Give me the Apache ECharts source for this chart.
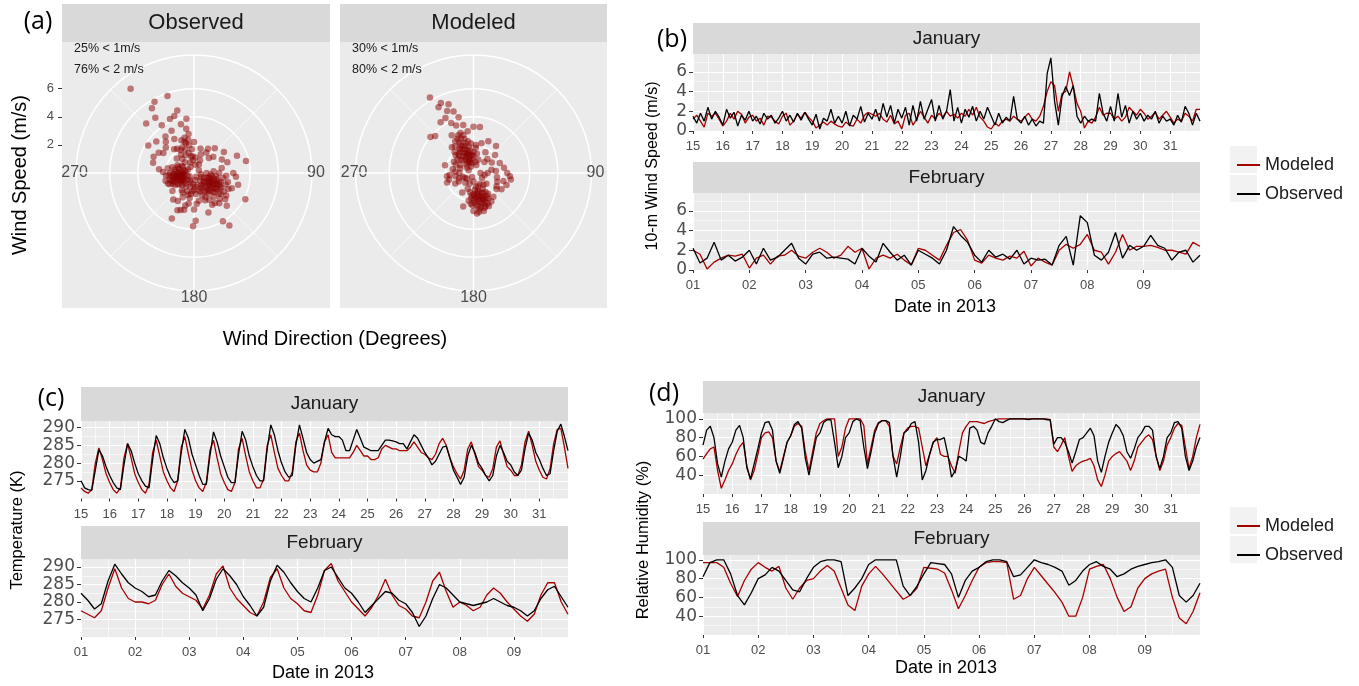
<!DOCTYPE html>
<html>
<head>
<meta charset="utf-8">
<title>Observed vs modeled wind, temperature and humidity</title>
<script src="https://cdn.jsdelivr.net/npm/echarts@6.0.0/dist/echarts.min.js"></script>
<style>
  html, body { margin: 0; padding: 0; background: #fff; }
  #chart { width: 1359px; height: 686px; }
</style>
</head>
<body>
<div id="chart"></div>
<script>
// ---------------- data ----------------
// time series are 3-hourly samples, first one at 00:00 of the first day
const stepsPerDay = 8;
const janStart = 15;
const febStart = 1;
const janTickDays = [15, 16, 17, 18, 19, 20, 21, 22, 23, 24, 25, 26, 27, 28, 29, 30, 31];
const febTickDays = [1, 2, 3, 4, 5, 6, 7, 8, 9];
const seriesNames = ['Modeled', 'Observed'];

// (b) 10-m wind speed, m/s
const janWindObs = [
  1.5, 0.8, 1.8, 1.0, 2.4, 1.2, 2.0, 1.4,
  0.6, 2.2, 1.3, 1.9, 0.5, 1.6, 1.1, 2.0,
  1.0, 1.5, 0.7, 1.8, 1.2, 1.6, 0.8, 1.3,
  2.0, 1.0, 1.6, 0.9, 1.8, 1.1, 1.9, 1.2,
  0.6, 1.7, 0.2, 1.3, 1.0, 2.2, 0.8, 1.5,
  0.8, 2.0, 0.5, 1.6, 1.2, 2.5, 0.9, 1.8,
  1.2, 2.2, 1.0, 2.8, 1.4, 2.6, 0.8, 2.2,
  1.3, 2.4, 0.6, 2.6, 1.0, 3.0, 1.2, 2.2,
  3.2, 1.0, 2.6, 1.2, 2.0, 4.2, 1.0, 2.4,
  0.8, 2.2, 1.4, 2.5, 1.0, 2.0, 1.2, 2.4,
  1.5, 0.6, 1.8, 0.8, 1.4, 1.0, 3.5, 1.2,
  0.8, 1.5, 0.6, 1.2, 0.5, 1.0, 0.8, 5.8,
  7.4, 3.0, 0.6, 3.5, 4.5, 3.6, 4.6, 1.5,
  0.8, 1.5, 1.0, 1.2, 1.0, 3.8, 1.8, 1.0,
  2.5, 1.0, 3.8, 1.4, 2.6, 0.8, 2.0, 1.2,
  1.8, 1.0, 1.6, 1.2, 2.0, 0.8, 1.5, 1.0,
  1.2, 0.6, 1.6, 0.9, 2.5, 1.8, 0.6, 1.8,
  1.0
];
const janWindMod = [
  1.2, 1.6, 1.0, 0.4, 1.8, 1.5, 1.8, 1.2,
  0.5, 1.0, 1.8, 1.2, 2.0, 1.7, 0.8, 1.4,
  1.6, 1.0, 1.3, 0.6, 1.5, 1.4, 1.0, 0.7,
  1.5, 1.8, 0.6, 1.0, 1.7, 1.3, 1.9, 1.4,
  1.0, 0.3, 0.6, 0.9, 0.6, 1.0, 0.7, 0.5,
  0.4, 0.9, 0.6, 0.5, 1.2, 0.8, 1.6, 1.9,
  1.7, 1.5, 1.8, 1.2, 0.9, 1.6, 0.7, 1.0,
  0.2, 1.6, 1.8, 0.6, 1.2, 2.0, 1.4, 0.8,
  1.6, 1.2, 1.8, 1.4, 2.0, 1.5, 1.7, 1.3,
  1.8, 1.5, 2.2, 1.6, 2.4, 1.4, 1.0, 0.4,
  0.2, 0.8, 0.5, 1.0, 1.2, 1.0, 1.5, 1.2,
  1.0, 1.4, 1.8, 1.2, 1.0, 1.5, 2.5, 4.0,
  5.0, 4.6, 2.0, 3.8, 4.0, 6.0, 4.5, 2.8,
  2.0, 0.3, 1.0, 0.8, 1.4, 2.4, 1.6, 1.8,
  1.8, 1.2, 1.5, 1.0, 1.4, 2.4, 2.0, 1.6,
  2.2, 1.8, 1.2, 1.5, 1.9, 1.2, 1.6, 2.0,
  1.4, 0.8, 1.2, 1.0, 1.8, 1.5, 1.0, 2.2,
  2.2
];
const febWindObs = [
  2.2, 0.7, 1.2, 2.8, 1.0, 1.5, 0.9, 1.3,
  2.0, 0.6, 2.2, 1.0, 1.3, 2.0, 2.7, 1.2,
  0.6, 1.6, 1.8, 1.2, 1.3, 1.2, 1.1, 0.6,
  2.2, 1.4, 0.8, 2.7, 1.8, 1.0, 1.5, 0.5,
  2.0, 1.6, 1.2, 0.6, 2.0, 4.4, 3.5, 2.8,
  1.5, 0.8, 2.0, 1.3, 1.6, 1.1, 2.0, 0.6,
  1.2, 1.0, 1.1, 0.5, 2.5, 3.4, 0.5, 5.5,
  4.8, 1.5, 1.0, 1.8, 3.8, 1.2, 2.5, 2.0,
  2.4, 3.5, 2.5, 2.2, 1.0, 1.8, 2.0, 0.8,
  1.5
];
const febWindMod = [
  2.0, 1.6, 0.1, 0.8, 1.2, 1.5, 1.4, 1.6,
  0.2, 1.2, 1.5, 0.6, 1.4, 1.5, 2.0, 1.4,
  1.2, 1.8, 2.2, 1.8, 1.2, 1.5, 2.4, 1.8,
  2.2, 0.1, 1.2, 1.5, 1.2, 1.6, 1.0, 0.5,
  2.2, 2.0, 1.5, 1.0, 2.5, 3.8, 4.1, 3.0,
  1.0, 0.7, 1.5, 1.2, 1.0, 1.4, 1.2, 1.9,
  0.4, 1.2, 0.8, 0.5, 2.0, 2.6, 2.2, 2.6,
  3.6, 2.0, 1.8, 0.6, 1.8, 3.6, 2.0, 2.4,
  2.4, 2.5, 2.3, 2.0, 2.0, 1.8, 1.6, 2.8,
  2.4
];

// (c) temperature, K
const janTempObs = [
  275.0, 273.0, 272.5, 272.3, 278.0, 283.8, 282.0, 279.0,
  276.5, 274.5, 273.0, 272.5, 279.5, 285.5, 283.5, 280.0,
  277.0, 275.0, 273.5, 273.0, 281.0, 287.8, 285.5, 281.5,
  278.5, 276.0, 274.5, 275.0, 283.0, 289.5, 287.0, 282.5,
  279.5, 276.5, 274.0, 274.0, 282.0, 288.8, 286.0, 282.0,
  279.0, 276.0, 274.5, 274.5, 282.5, 289.0, 286.5, 282.0,
  279.0, 276.5, 275.0, 275.0, 284.0, 290.8, 288.0, 283.5,
  280.0, 277.5, 276.0, 276.5, 285.0, 290.8, 287.0, 283.0,
  281.0, 280.0, 280.5, 281.0, 286.0, 289.8, 288.0, 287.5,
  287.5, 286.5, 283.5, 283.5, 286.5, 289.5, 287.0, 284.5,
  284.0, 283.5, 283.5, 283.5, 285.0, 286.5, 286.5, 286.3,
  286.0, 285.5, 285.5, 284.0, 286.0, 288.0, 287.0, 285.0,
  283.0, 281.5, 279.5, 280.5, 282.5, 284.5, 284.8, 281.5,
  278.0, 276.0, 274.0, 276.0, 282.0, 285.0, 283.0, 280.0,
  278.5, 276.5, 275.0, 276.5, 282.0, 285.0, 283.0, 280.5,
  279.5, 277.5, 276.5, 278.0, 284.0, 288.5, 286.5, 283.0,
  281.0, 278.5, 276.5, 277.0, 283.5, 289.0, 291.0, 287.5,
  283.5
];
const janTempMod = [
  273.0, 272.0, 271.5, 272.5, 280.0, 284.3, 281.0, 277.0,
  274.5, 272.5, 271.5, 273.0, 281.5, 285.5, 281.5, 277.0,
  274.5, 272.5, 271.5, 274.0, 283.0, 286.5, 282.0, 277.5,
  275.0, 273.0, 272.0, 275.0, 284.5, 287.5, 282.5, 278.0,
  275.0, 273.0, 272.0, 274.5, 283.5, 286.5, 281.5, 277.0,
  274.5, 272.5, 272.0, 274.5, 284.0, 287.0, 282.0, 277.5,
  275.0, 273.0, 273.0, 275.5, 285.0, 288.0, 283.0, 278.5,
  276.5, 275.0, 275.0, 277.5, 286.0, 288.5, 283.5, 279.5,
  278.0, 277.5, 277.5, 280.0, 286.0, 288.0, 283.0, 281.5,
  281.5, 281.5, 281.5, 281.5, 283.0, 285.0, 283.5, 282.0,
  282.0, 281.0, 281.0, 281.5, 284.0, 285.0, 284.5, 284.0,
  284.0, 283.5, 283.5, 283.5, 284.5, 286.0, 284.5, 283.0,
  282.5, 281.5, 281.0, 282.5, 285.5, 287.0, 285.0, 281.5,
  279.0, 277.0, 275.5, 278.0, 284.0, 286.0, 282.5, 279.0,
  278.0, 276.5, 276.0, 278.5, 284.5, 286.3, 282.5, 279.0,
  278.0, 276.5, 276.5, 279.5, 286.0, 289.0, 285.0, 280.5,
  278.0, 276.0, 275.5, 278.5, 285.5, 289.5, 289.8, 284.5,
  278.5
];
const febTempObs = [
  282.5, 280.5, 278.0, 279.5, 286.0, 290.8, 288.0, 285.5,
  284.0, 283.0, 281.5, 282.0, 286.0, 289.0, 287.5, 285.5,
  284.0, 282.0, 277.5, 281.0, 286.5, 289.5, 287.5, 285.0,
  281.5, 279.0, 276.0, 278.5, 286.0, 290.5, 288.5, 285.5,
  283.0, 281.0, 280.0, 284.0, 289.0, 290.0, 287.0, 284.0,
  282.5, 280.0, 277.0, 279.0, 281.0, 283.0, 282.5, 280.5,
  279.5, 277.0, 273.0, 276.0, 281.0, 285.0, 284.0, 282.0,
  280.0, 279.5, 279.0, 279.5, 280.0, 281.0, 280.0, 279.0,
  278.5, 277.5, 276.0, 277.5, 281.0, 283.5, 284.5, 281.5,
  278.5
];
const febTempMod = [
  277.5, 276.5, 275.5, 277.5, 284.0, 289.5, 284.0, 281.0,
  280.0, 280.0, 279.5, 280.5, 285.0, 288.0, 284.5, 282.5,
  281.5, 280.5, 278.0, 282.0, 288.0, 290.3, 284.0, 281.0,
  279.0, 277.0, 276.0, 280.0, 287.0, 289.5, 284.0, 281.0,
  279.5, 277.5, 277.0, 282.0, 289.0, 291.0, 286.0, 283.0,
  280.0, 278.0, 276.0, 278.5, 282.0, 286.5, 282.0, 279.0,
  278.0, 276.0, 275.5, 280.0, 286.0, 288.5, 283.0, 278.5,
  280.0, 279.0, 277.5, 278.5, 282.0, 284.0, 282.5, 280.0,
  278.0, 276.0, 274.5, 276.5, 282.0, 285.5, 285.5, 280.0,
  276.5
];

// (d) relative humidity, %
const janRhObs = [
  72, 88, 92, 80, 52, 38, 55, 68,
  75, 88, 93, 80, 48, 36, 52, 68,
  85, 96, 97, 88, 55, 42, 58, 75,
  82, 94, 97, 90, 58, 40, 60, 80,
  85, 96, 99, 99, 75, 48, 60, 80,
  85, 97, 100, 98, 70, 47, 65, 85,
  95, 98, 98, 96, 60, 38, 60, 85,
  88, 95, 97, 75, 35, 45, 62, 75,
  78, 78, 80, 62, 38, 45, 60, 58,
  55, 90, 92, 88, 75, 73, 85, 92,
  100, 97, 96, 98, 100, 100, 100, 100,
  100, 99, 100, 100, 100, 100, 99, 99,
  73, 80, 80, 75, 65, 53, 65, 78,
  80, 85, 90, 82, 55, 43, 60, 75,
  85, 94, 90, 82, 65, 58, 68, 80,
  85, 92, 92, 88, 60, 47, 60, 80,
  85, 96, 97, 90, 60, 45, 55, 70,
  80
];
const janRhMod = [
  57, 63, 68, 70, 45, 26, 35, 45,
  52, 62, 70, 75, 50, 35, 45, 62,
  80, 85, 86, 80, 55, 44, 60, 75,
  82, 92, 95, 92, 65, 45, 65, 85,
  95, 98, 100, 100, 100, 60, 70, 90,
  100, 100, 100, 100, 93, 52, 70, 88,
  96, 98, 98, 92, 60, 52, 70, 85,
  90, 92, 92, 90, 70, 50, 62, 75,
  80, 62, 60, 60, 50, 42, 65, 85,
  92, 97, 97, 97, 96, 95, 97, 98,
  99, 100, 100, 100, 100, 100, 100, 100,
  100, 100, 100, 100, 100, 100, 100, 99,
  70, 65, 72, 80, 60, 44, 50, 53,
  55, 56, 58, 50, 35, 28, 40, 55,
  60, 63, 65, 60, 55, 45, 55, 70,
  75, 80, 83, 78, 60, 45, 55, 72,
  80, 90, 95, 93, 70, 47, 60, 80,
  94
];
const febRhObs = [
  82, 97, 100, 100, 85, 62, 52, 65,
  80, 84, 92, 88, 78, 68, 66, 80,
  92, 98, 100, 100, 98, 62, 70, 80,
  95, 100, 100, 100, 100, 72, 62, 72,
  85, 97, 96, 95, 85, 60, 78, 88,
  92, 98, 100, 100, 98, 82, 84, 92,
  100, 97, 95, 92, 88, 73, 78, 88,
  95, 98, 93, 90, 82, 85, 90, 93,
  95, 97, 98, 100, 92, 62, 55, 62,
  75
];
const febRhMod = [
  97, 97, 97, 92, 75, 61, 78, 90,
  97, 92, 88, 93, 70, 58, 70, 78,
  80, 88, 94, 88, 70, 52, 46, 72,
  85, 93, 85, 76, 67, 58, 62, 70,
  92, 91, 90, 86, 68, 48, 62, 78,
  92, 97, 98, 98, 97, 58, 62, 80,
  92, 83, 74, 65, 55, 40, 40, 60,
  90, 93, 95, 80, 60, 45, 50, 70,
  80, 85, 88, 90, 60, 38, 32, 45,
  65
];

// (a) hourly wind, [speed m/s, direction deg]
const obsWindRose = [
  [7.5, 323], [5.8, 331], [5.5, 327], [5.8, 341], [4.9, 316], [4.8, 325], [4.3, 341], [4.2, 336], [4.1, 326], [4.6, 345],
  [3.2, 350], [3.6, 345], [3.0, 318], [3.8, 301], [3.5, 310], [3.3, 322], [2.5, 339], [2.8, 330], [2.6, 303], [2.5, 276],
  [3.0, 284], [2.9, 300], [2.2, 320], [2.0, 335], [2.4, 350], [2.2, 345], [3.9, 352], [3.4, 332], [2.7, 312], [3.1, 292],
  [1.7, 31], [2.2, 64], [3.3, 68], [3.8, 77], [2.6, 55], [1.8, 50], [2.0, 80], [2.8, 90], [2.5, 72], [1.4, 20], [1.0, 25], [0.6, 10], [2.3, 40],
  [3.25, 105], [4.1, 117], [3.0, 95], [4.5, 146], [4.0, 149], [3.3, 135], [2.8, 125], [2.6, 150], [3.0, 160], [2.9, 112],
  [3.8, 181], [3.6, 206], [2.9, 204], [2.4, 218], [3.4, 178], [2.2, 190], [2.0, 230], [2.7, 195],
  [1.4, 127], [1.2, 120], [1.6, 130], [1.0, 110], [1.8, 115], [1.5, 140], [2.0, 125], [1.3, 100], [0.9, 130], [1.7, 105],
  [2.2, 118], [1.1, 145], [1.9, 135], [1.4, 112], [1.6, 122], [2.4, 110], [2.1, 100], [1.2, 95], [0.8, 115], [1.5, 150],
  [1.8, 145], [2.3, 130], [1.0, 135], [1.3, 140], [1.7, 118], [2.0, 108], [1.1, 125], [1.5, 105], [0.7, 140], [1.9, 125],
  [1.4, 133], [1.6, 98], [1.2, 155], [2.5, 122], [2.6, 135], [1.8, 128], [1.3, 118], [2.2, 140], [1.6, 112], [2.0, 133],
  [2.7, 115], [2.5, 105], [2.8, 140], [2.2, 150], [1.9, 155], [1.4, 160], [1.0, 150], [0.6, 120], [0.5, 100], [0.9, 90],
  [1.4, 85], [1.8, 90], [2.3, 95], [2.1, 120], [1.7, 138], [1.3, 125], [1.5, 118], [1.9, 110], [2.4, 128], [1.1, 105],
  [2.9, 130], [2.6, 145], [1.6, 145], [2.0, 115], [1.2, 110],
  [1.05, 257], [0.9, 250], [1.2, 265], [0.8, 270], [1.4, 255], [1.0, 240], [1.3, 275], [0.7, 260], [1.6, 262], [1.1, 285],
  [0.9, 230], [1.5, 245], [1.8, 255], [1.2, 248], [0.6, 280], [1.0, 268], [1.4, 280], [1.7, 270], [0.8, 245], [1.3, 258],
  [1.1, 238], [2.0, 265], [0.5, 250], [1.6, 250], [1.2, 290], [0.9, 300], [1.9, 280], [1.4, 235], [1.0, 220], [0.7, 225],
  [1.5, 268], [1.2, 255], [0.9, 262], [1.7, 243], [1.1, 272], [1.3, 250],
  [0.4, 230], [0.6, 210], [1.9, 245], [2.1, 255], [1.8, 265], [1.6, 285], [1.3, 295], [0.5, 300], [1.0, 250], [1.2, 260],
  [0.8, 255], [1.5, 258], [1.4, 265], [1.1, 245], [0.9, 275], [1.7, 252], [2.2, 272], [1.0, 300], [0.7, 285], [1.3, 232],
  [1.5, 215], [1.2, 225], [0.9, 240], [1.6, 238], [2.0, 248],
  [1.2, 180], [1.5, 175], [1.8, 190], [1.0, 195], [2.0, 170], [1.4, 200], [1.6, 210], [0.8, 185], [1.3, 165], [2.2, 175],
  [1.7, 160], [1.1, 210], [2.4, 195], [1.9, 205], [1.5, 188], [2.1, 158],
  [0.5, 170], [0.7, 200], [0.3, 150], [1.0, 175], [1.3, 185], [1.6, 195], [0.9, 165], [2.6, 180], [2.8, 200], [2.3, 210],
  [0.5, 330], [0.8, 340], [1.2, 350], [1.5, 345], [1.0, 320], [1.8, 340], [1.2, 355], [2.0, 350], [1.7, 355], [0.4, 60],
  [1.4, 335], [1.6, 325], [0.9, 355], [2.3, 343], [1.1, 5], [0.7, 30],
  [1.9, 330], [2.1, 325], [2.6, 345], [2.8, 352], [1.3, 320], [1.6, 310], [2.2, 0], [1.8, 15], [1.5, 45], [2.0, 30]
];
const modWindRose = [
  [6.2, 330], [5.5, 335], [5.3, 332], [5.2, 340], [4.8, 337], [4.4, 333], [4.6, 342], [4.0, 310], [3.8, 314], [4.1, 345],
  [3.6, 340], [3.5, 348], [3.3, 0], [3.3, 8], [3.0, 352], [2.9, 338], [3.9, 336], [4.3, 327], [3.1, 330],
  [1.4, 329], [1.2, 320], [1.6, 335], [1.8, 340], [2.0, 330], [1.0, 340], [1.3, 350], [2.2, 345], [0.8, 320], [1.5, 310],
  [2.4, 335], [1.9, 350], [1.1, 300], [0.7, 350], [2.6, 340], [1.7, 322], [1.2, 360], [2.1, 355], [1.5, 345], [0.9, 330],
  [2.3, 325], [1.0, 290], [1.6, 300], [2.8, 345], [1.3, 315], [2.0, 318], [0.6, 310], [1.8, 5], [1.4, 10], [2.2, 15],
  [1.0, 20], [2.5, 25], [1.7, 30],
  [1.5, 338], [1.8, 328], [2.1, 338], [1.2, 345], [1.6, 352], [2.4, 320], [1.9, 333], [1.0, 355], [2.6, 330], [1.3, 335],
  [1.7, 345], [2.0, 342], [2.2, 335], [1.4, 342], [1.1, 330], [0.9, 345], [1.8, 315], [2.5, 345], [2.7, 335], [3.0, 342],
  [1.6, 320], [1.3, 355], [2.3, 350], [2.0, 5], [1.5, 0], [0.8, 338],
  [2.0, 69], [2.7, 100], [2.4, 90], [2.2, 80], [1.5, 60], [1.0, 90], [1.8, 110], [2.3, 120], [1.2, 130], [2.6, 95],
  [1.6, 85], [0.8, 100], [2.0, 50], [2.5, 40], [1.4, 45],
  [0.5, 340], [0.8, 10], [1.1, 45], [1.3, 80], [1.7, 100], [2.0, 125], [0.9, 150], [0.7, 120], [1.9, 120], [2.2, 105], [2.5, 110],
  [1.7, 164], [1.5, 170], [2.0, 160], [1.8, 175], [2.2, 165], [1.3, 150], [2.4, 155], [1.9, 180], [2.6, 170], [1.6, 185],
  [1.2, 175], [2.1, 150], [2.5, 160], [1.0, 160], [2.3, 175], [1.8, 145], [2.7, 180], [2.5, 197], [1.4, 190], [2.0, 190],
  [2.8, 165], [1.1, 140], [2.2, 140], [1.6, 155], [1.9, 168], [2.4, 172],
  [1.8, 160], [2.0, 172], [1.6, 178], [2.3, 162], [1.4, 168], [2.6, 155], [1.9, 150], [2.2, 185], [1.5, 158], [2.1, 168],
  [1.3, 165], [1.7, 170], [2.1, 178], [2.5, 168], [2.8, 172], [1.9, 160], [2.4, 148], [1.6, 148], [2.2, 158], [1.0, 170],
  [2.6, 162], [2.9, 175], [1.8, 185], [2.3, 182], [2.0, 155], [1.5, 180],
  [1.0, 270], [1.3, 260], [0.8, 250], [1.5, 280], [1.7, 265], [0.6, 230], [1.2, 240], [1.8, 255],
  [1.9, 263], [2.1, 285], [2.0, 250], [1.4, 295], [1.1, 250], [1.5, 240], [1.3, 275], [1.2, 200], [1.6, 210],
  [0.3, 200], [0.5, 90], [0.6, 180], [0.8, 200], [0.4, 300], [0.7, 240], [0.9, 220], [0.6, 20]
];
const obsShares = ['25% < 1m/s', '76% < 2 m/s'];
const modShares = ['30% < 1m/s', '80% < 2 m/s'];
const radiusTicks = [2, 4, 6];

// ---------------- chart ----------------
const RED = '#A50000';
const BLACK = '#000000';
const PANEL = '#EBEBEB';
const STRIP = '#D9D9D9';
const TICK = '#333333';
const LABEL = '#4D4D4D';

const chart = echarts.init(document.getElementById('chart'));

const toPairs = (values, start) => values.map((v, i) => [start + i / stepsPerDay, v]);
const pad2 = d => (d < 10 ? '0' + d : String(d));

// six time-series panels: grid box, y range, day range
const panels = [
  { box: { left: 693, top: 52, width: 507, height: 79 }, y: [0, 8, 2], yTicks: [0, 2, 4, 6], x: [15, 32], xTicks: janTickDays, fmt: String, start: janStart, mod: janWindMod, obs: janWindObs },
  { box: { left: 693, top: 191, width: 507, height: 79 }, y: [0, 8, 2], yTicks: [0, 2, 4, 6], x: [1, 10], xTicks: febTickDays, fmt: pad2, start: febStart, mod: febWindMod, obs: febWindObs },
  { box: { left: 81, top: 410, width: 487, height: 88.5 }, y: [270, 295, 5], yTicks: [275, 280, 285, 290], x: [15, 32], xTicks: janTickDays, fmt: String, start: janStart, mod: janTempMod, obs: janTempObs },
  { box: { left: 81, top: 549.5, width: 487, height: 87.5 }, y: [270, 295, 5], yTicks: [275, 280, 285, 290], x: [1, 10], xTicks: febTickDays, fmt: pad2, start: febStart, mod: febTempMod, obs: febTempObs },
  { box: { left: 703, top: 400, width: 497, height: 94 }, y: [20, 120, 20], yTicks: [40, 60, 80, 100], x: [15, 32], xTicks: janTickDays, fmt: String, start: janStart, mod: janRhMod, obs: janRhObs },
  { box: { left: 703, top: 541, width: 497, height: 94 }, y: [20, 120, 20], yTicks: [40, 60, 80, 100], x: [1, 10], xTicks: febTickDays, fmt: pad2, start: febStart, mod: febRhMod, obs: febRhObs }
];

// grid 0 only carries the radial tick labels of the "Observed" rose
const grid = [{ left: 62, top: 55, width: 1, height: 118, show: false }];
const xAxis = [{ gridIndex: 0, type: 'value', min: 0, max: 1, show: false }];
const yAxis = [{
  gridIndex: 0, type: 'value', min: 0, max: 8.4, interval: 2,
  axisLine: { show: false },
  axisTick: { show: true, length: 4, lineStyle: { color: TICK }, customValues: radiusTicks },
  axisLabel: { color: LABEL, fontSize: 13, margin: 8, customValues: radiusTicks,
    formatter: v => (radiusTicks.includes(v) ? String(v) : '') },
  splitLine: { show: false }
}];
const series = [];

panels.forEach((p, k) => {
  const g = k + 1;
  grid.push(Object.assign({ show: true, backgroundColor: PANEL, borderWidth: 0 }, p.box));
  xAxis.push({
    gridIndex: g, type: 'value', min: p.x[0], max: p.x[1], interval: 1,
    axisLine: { show: false },
    axisTick: { show: true, length: 3, lineStyle: { color: TICK }, customValues: p.xTicks },
    axisLabel: { color: LABEL, fontSize: 13, margin: 9, customValues: p.xTicks,
      formatter: v => (p.xTicks.includes(v) ? p.fmt(v) : '') },
    splitLine: { lineStyle: { color: '#fff', width: 1.2 } },
    minorTick: { show: false, splitNumber: 2 },
    minorSplitLine: { show: true, lineStyle: { color: '#fff', width: 0.6 } }
  });
  yAxis.push({
    gridIndex: g, type: 'value', min: p.y[0], max: p.y[1], interval: p.y[2],
    axisLine: { show: false },
    axisTick: { show: true, length: 4, lineStyle: { color: TICK }, customValues: p.yTicks },
    axisLabel: { color: LABEL, fontSize: 17, fontFamily: 'DejaVu Sans', margin: 6, customValues: p.yTicks,
      formatter: v => (p.yTicks.includes(v) ? String(v) : '') },
    splitLine: { lineStyle: { color: '#fff', width: 1.2 } },
    minorTick: { show: false, splitNumber: 2 },
    minorSplitLine: { show: true, lineStyle: { color: '#fff', width: 0.6 } }
  });
  [[seriesNames[0], p.mod, RED], [seriesNames[1], p.obs, BLACK]].forEach(([name, vals, color]) => {
    series.push({
      name, type: 'line', xAxisIndex: g, yAxisIndex: g,
      data: toPairs(vals, p.start),
      symbol: 'none', showSymbol: false,
      lineStyle: { color, width: 1.3 }, itemStyle: { color },
      animation: false
    });
  });
});

// two wind roses
const roses = [
  { center: [194, 173], data: obsWindRose },
  { center: [473.5, 173], data: modWindRose }
];
const polar = roses.map(r => ({ center: r.center, radius: 118 }));
const angleAxis = roses.map((r, k) => ({
  polarIndex: k, type: 'value', min: 0, max: 360, interval: 90, startAngle: 90, clockwise: true,
  axisLine: { show: false }, axisTick: { show: false },
  axisLabel: {
    margin: -12, color: LABEL, fontSize: 16,
    formatter: v => (v === 90 ? '{e|90}' : v === 180 ? '{s|180}' : v === 270 ? '270' : ''),
    rich: {
      e: { padding: [0, 0, 0, 7], fontSize: 16, color: LABEL },
      s: { padding: [11, 0, 0, 0], fontSize: 16, color: LABEL }
    }
  },
  splitLine: { lineStyle: { color: '#fff', width: 1.5 } },
  minorTick: { show: false, splitNumber: 2 },
  minorSplitLine: { show: true, lineStyle: { color: '#fff', width: 0.7 } }
}));
const radiusAxis = roses.map((r, k) => ({
  polarIndex: k, type: 'value', min: 0, max: 8.4, interval: 2,
  axisLine: { show: false }, axisTick: { show: false }, axisLabel: { show: false },
  splitLine: { show: true, lineStyle: { color: ['#fff', '#fff', '#fff', '#fff', 'rgba(0,0,0,0)', '#fff'], width: 1.5 } }
}));
roses.forEach((r, k) => {
  series.push({
    type: 'scatter', coordinateSystem: 'polar', polarIndex: k,
    data: r.data, symbolSize: 6.5,
    itemStyle: { color: '#8B0000', opacity: 0.5 },
    animation: false
  });
});

// facet strips, backgrounds, titles
const rect = (x, y, w, h, fill, z) => ({ type: 'rect', z, shape: { x, y, width: w, height: h }, style: { fill } });
const text = (t, x, y, size, opts = {}) => ({
  type: 'text', z: 110, x, y, rotation: opts.rot || 0,
  style: {
    text: t, fill: opts.color || '#000', align: opts.align || 'center', verticalAlign: 'middle',
    font: `${size}px ${opts.family || "'Liberation Sans', Arial, sans-serif"}`
  }
});
const strip = (label, x, y, w, h, size) => [
  rect(x, y, w, h, STRIP, 100),
  text(label, x + w / 2, y + h / 2, size, { color: '#1A1A1A' })
];
const ROT = Math.PI / 2;

const graphics = [
  rect(62, 42, 268, 266, PANEL, -10),
  rect(340, 42, 267, 266, PANEL, -10),
  ...strip('Observed', 62, 4, 268, 38, 22),
  ...strip('Modeled', 340, 4, 267, 38, 22),
  ...strip('January', 693, 23, 507, 31, 19),
  ...strip('February', 693, 162, 507, 31, 19),
  ...strip('January', 81, 387, 487, 34, 19),
  ...strip('February', 81, 526, 487, 33, 19),
  ...strip('January', 703, 381, 497, 32, 19),
  ...strip('February', 703, 522, 497, 33, 19),
  text(obsShares[0], 74, 49, 12.5, { align: 'left', color: '#1A1A1A' }),
  text(obsShares[1], 74, 70, 12.5, { align: 'left', color: '#1A1A1A' }),
  text(modShares[0], 352, 49, 12.5, { align: 'left', color: '#1A1A1A' }),
  text(modShares[1], 352, 70, 12.5, { align: 'left', color: '#1A1A1A' }),
  text('(a)', 38, 22, 25, { family: "'Open Sans', sans-serif" }),
  text('(b)', 672, 40, 25, { family: "'Open Sans', sans-serif" }),
  text('(c)', 51, 399, 25, { family: "'Open Sans', sans-serif" }),
  text('(d)', 664, 394, 25, { family: "'Open Sans', sans-serif" }),
  text('Wind Speed (m/s)', 20, 175, 20, { rot: ROT }),
  text('Wind Direction (Degrees)', 335, 339, 20),
  text('10-m Wind Speed (m/s)', 653, 166, 16, { rot: ROT }),
  text('Date in 2013', 945, 307, 18),
  text('Temperature (K)', 17, 530, 16.5, { rot: ROT }),
  text('Date in 2013', 323, 673, 18),
  text('Relative Humidity (%)', 643, 540, 16.5, { rot: ROT }),
  text('Date in 2013', 946, 668, 18),
  // legend key backgrounds
  rect(1230, 146, 27, 27, '#F2F2F2', -10),
  rect(1230, 175, 27, 27, '#F2F2F2', -10),
  rect(1230, 507, 27, 27, '#F2F2F2', -10),
  rect(1230, 536, 27, 27, '#F2F2F2', -10)
];

const legendBase = {
  data: seriesNames, orient: 'vertical', left: 1232, icon: 'rect', itemWidth: 23, itemHeight: 2, itemGap: 9,
  textStyle: { fontSize: 18, color: '#1A1A1A', lineHeight: 20 },
  selectedMode: false
};

const option = {
  animation: false,
  backgroundColor: '#ffffff',
  textStyle: { fontFamily: "'Liberation Sans', Arial, sans-serif" },
  legend: [
    Object.assign({ top: 150 }, legendBase),
    Object.assign({ top: 511 }, legendBase)
  ],
  grid, xAxis, yAxis,
  polar, angleAxis, radiusAxis,
  graphic: { elements: graphics },
  series
};

chart.setOption(option);
window.addEventListener('resize', () => chart.resize());
</script>
</body>
</html>
